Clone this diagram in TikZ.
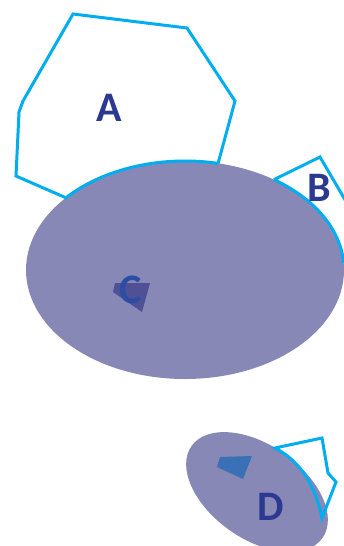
\documentclass[tikz,border=0pt]{standalone}
\usepackage{fontspec}
\setmainfont{Carlito}
\usepackage{xcolor}
\usepackage{tikz}
\usetikzlibrary{calc}
\definecolor{lavender}{RGB}{135,136,182}
\definecolor{cyanline}{RGB}{0,174,239}
\definecolor{navy}{RGB}{43,57,144}
\definecolor{cblue}{RGB}{44,78,162}
\definecolor{patchC}{RGB}{80,80,150}
\definecolor{patchD}{RGB}{58,112,182}
\tikzset{
  region/.style ={fill=lavender},
  outl/.style   ={draw=cyanline, line width=3pt, line join=miter},
  lbl/.style    ={text=navy, font=\fontsize{42}{42}\selectfont\bfseries, inner sep=0pt},
}

\begin{document}
\begin{tikzpicture}[x=1pt,y=-1pt]
\useasboundingbox (0,0) rectangle (344,546);
\clip (0,0) rectangle (344,546);
% big region
\coordinate (cen) at (185,270);
\fill[region] (cen) ellipse [x radius=159, y radius=109];
% set A, bottom edge follows the ellipse
\draw[outl] ($(cen)+(-78:159 and 109)$) -- (235,101) -- (187,28) -- (73,14) -- (23,101)
  -- (19,112) -- (16,176) -- ($(cen)+(-138.5:159 and 109)$)
  arc[start angle=-138.5, end angle=-78, x radius=159, y radius=109];
% set B
\draw[outl] ($(cen)+(-56:159 and 109)$) -- (320,157) -- (344,198) -- (362,230)
  -- ($(cen)+(-5:159 and 109)$) arc[start angle=-5, end angle=-56, x radius=159, y radius=109];
% patch C
\fill[patchC] (115,283) -- (150,283) -- (142,312) -- (113,292) -- cycle;
% small region with patch and D outline
\coordinate (cen2) at (257,492);
\fill[region, rotate around={-35:(cen2)}] (cen2) ellipse [x radius=80, y radius=47];
\fill[patchD] (220,457) -- (252,456) -- (243,479) -- (217,467) -- cycle;
\draw[outl] (275,448) -- (322,438) -- (328,473) -- (336,482) -- (322,518)
  .. controls (316,488) and (302,462) .. cycle;
% labels
\node[lbl] (labA) at (109,108) {A};
\node[lbl] (labB) at (319,188) {B};
\node[lbl,text=cblue] (labC) at (131,290) {C};
\node[lbl] (labD) at (271,507) {D};
\end{tikzpicture}
\end{document}
